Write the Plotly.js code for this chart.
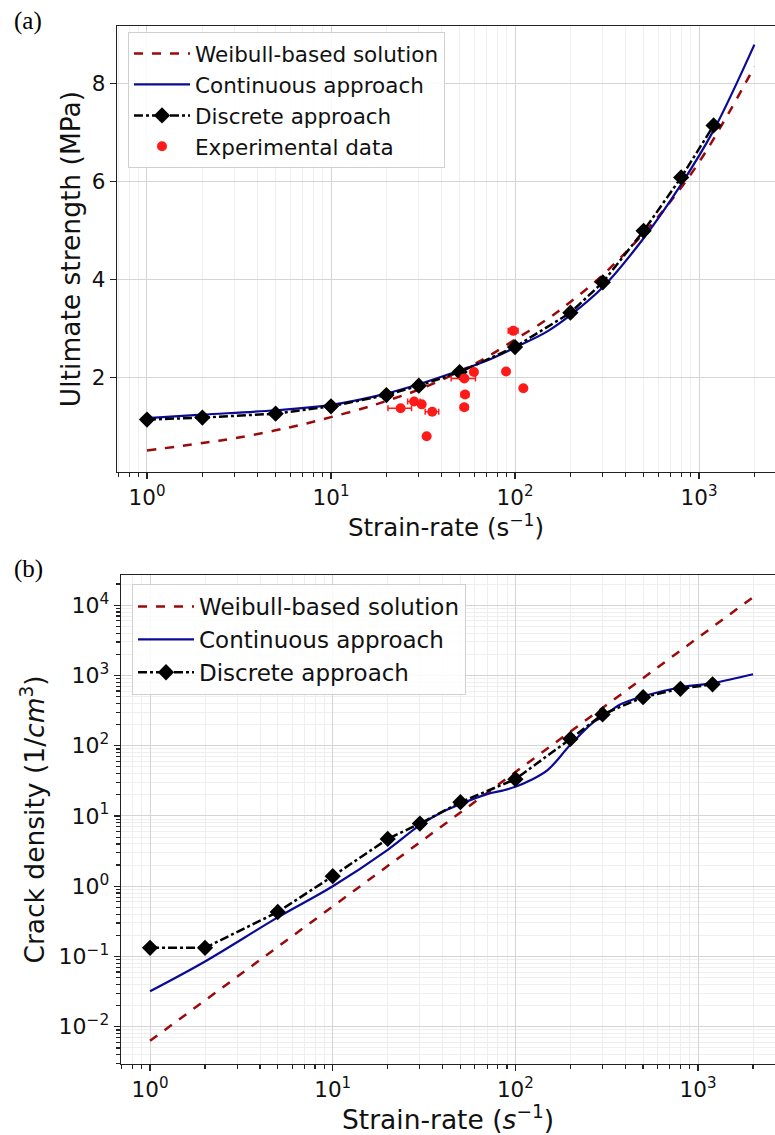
<!DOCTYPE html>
<html>
<head>
<meta charset="utf-8">
<script src="https://cdn.plot.ly/plotly-3.0.1.min.js"></script>
<style>html,body{margin:0;padding:0;background:#fff;}#chart{width:775px;height:1135px;}</style>
</head>
<body>
<div id="chart"></div>
<script>
// ---------- Panel (a): ultimate strength ----------
const discStrain = [1, 2, 5, 10, 20, 30, 50, 100, 200, 300, 500, 800, 1200];
const discStrength = [1.15, 1.19, 1.27, 1.42, 1.65, 1.84, 2.12, 2.63, 3.33, 3.95, 5.0, 6.09, 7.15];

const contStrainA = [1, 2, 5, 10, 20, 30, 50, 70, 100, 150, 200, 300, 500, 800, 1200, 2000];
const contStrength = [1.18, 1.25, 1.34, 1.45, 1.68, 1.87, 2.15, 2.35, 2.62, 2.95, 3.28, 3.85, 4.85, 5.95, 7.05, 8.8];

const weibStrainA = [1, 2, 3, 5, 7, 10, 15, 20, 30, 50, 70, 100, 150, 200, 300, 500, 700, 1000, 1500, 2000];
const weibStrength = [0.52, 0.67, 0.77, 0.93, 1.05, 1.2, 1.38, 1.53, 1.76, 2.13, 2.42, 2.78, 3.2, 3.55, 4.1, 4.95, 5.6, 6.4, 7.5, 8.35];

const expStrain = [23.9, 28.3, 31.1, 35.5, 33.1, 53, 59.8, 53.5, 53, 89.4, 97.9, 111];
const expStrength = [1.38, 1.52, 1.46, 1.31, 0.81, 1.99, 2.12, 1.66, 1.40, 2.13, 2.96, 1.79];
const expStrainErr = [3.5, 2.2, 0, 3.0, 0, 8, 0, 2.5, 2.5, 0, 6, 0];

// ---------- Panel (b): crack density ----------
const discCrack = [0.133, 0.133, 0.43, 1.39, 4.72, 7.8, 15.7, 33.4, 125, 279, 491, 647, 748];

const contStrainB = [1, 2, 5, 10, 20, 30, 40, 50, 70, 85, 100, 120, 150, 200, 270, 300, 370, 500, 800, 1200, 2000];
const contCrack = [0.032, 0.085, 0.36, 1.0, 3.3, 7.4, 11.5, 14.8, 20.5, 23, 26, 32, 45, 103, 220, 255, 380, 505, 680, 780, 1040];

const weibStrainB = [1, 10, 100, 1000, 2000];
const weibCrack = [0.0063, 0.52, 42, 3450, 13000];

const xTickVals = [1, 10, 100, 1000];
const xTickText = ['10<sup>0</sup>', '10<sup>1</sup>', '10<sup>2</sup>', '10<sup>3</sup>'];
const yTickValsA = [2, 4, 6, 8];
const yTickValsB = [0.01, 0.1, 1, 10, 100, 1000, 10000];
const yTickTextB = ['10<sup>−2</sup>', '10<sup>−1</sup>', '10<sup>0</sup>', '10<sup>1</sup>', '10<sup>2</sup>', '10<sup>3</sup>', '10<sup>4</sup>'];

const names = ['Weibull-based solution', 'Continuous approach', 'Discrete approach', 'Experimental data'];

const WEIB = '#9b0a0a', CONT = '#0a0a96', BLK = '#000000', EXP = '#ff1a1a';
const FONT = 'DejaVu Sans, sans-serif';

const discMarker = {symbol: 'diamond', size: 12.5, color: BLK};

const traces = [
  {x: weibStrainA, y: weibStrength, name: names[0], mode: 'lines', line: {color: WEIB, width: 2.5, dash: 'dash', shape: 'spline'}, xaxis: 'x', yaxis: 'y', legend: 'legend'},
  {x: contStrainA, y: contStrength, name: names[1], mode: 'lines', line: {color: CONT, width: 2.2, shape: 'spline'}, xaxis: 'x', yaxis: 'y', legend: 'legend'},
  {x: discStrain, y: discStrength, name: names[2], mode: 'lines+markers', line: {color: BLK, width: 2.5, dash: 'dashdot'}, marker: discMarker, xaxis: 'x', yaxis: 'y', legend: 'legend'},
  {x: expStrain, y: expStrength, name: names[3], mode: 'markers', marker: {symbol: 'circle', size: 10, color: EXP},
   error_x: {type: 'data', array: expStrainErr, visible: true, color: EXP, thickness: 1.5, width: 3},
   xaxis: 'x', yaxis: 'y', legend: 'legend'},

  {x: weibStrainB, y: weibCrack, name: names[0], mode: 'lines', line: {color: WEIB, width: 2.5, dash: 'dash'}, xaxis: 'x2', yaxis: 'y2', legend: 'legend2'},
  {x: contStrainB, y: contCrack, name: names[1], mode: 'lines', line: {color: CONT, width: 2.2, shape: 'spline'}, xaxis: 'x2', yaxis: 'y2', legend: 'legend2'},
  {x: discStrain, y: discCrack, name: names[2], mode: 'lines+markers', line: {color: BLK, width: 2.5, dash: 'dashdot'}, marker: discMarker, xaxis: 'x2', yaxis: 'y2', legend: 'legend2'}
];

const W = 775, H = 1135;
const axCommon = {
  showline: true, linecolor: '#222', linewidth: 1.3, mirror: true,
  ticks: 'outside', ticklen: 6, tickwidth: 1.2, tickcolor: '#222',
  tickfont: {family: FONT, size: 21.5, color: '#111'},
  gridcolor: '#d4d4d4', gridwidth: 1, zeroline: false
};
const minorLog = {ticks: 'outside', ticklen: 3.5, tickcolor: '#222', dtick: 'D1', showgrid: true, gridcolor: '#efefef', gridwidth: 1};

const layout = {
  width: W, height: H,
  margin: {l: 0, r: 0, t: 0, b: 0},
  paper_bgcolor: '#fff', plot_bgcolor: '#fff',
  showlegend: true,
  font: {family: FONT, color: '#111'},
  xaxis: Object.assign({}, axCommon, {
    type: 'log', domain: [117 / W, 1], range: [-0.163, 3.413], anchor: 'y',
    tickvals: xTickVals, ticktext: xTickText, minor: minorLog,
    title: {text: 'Strain-rate (s<sup>−1</sup>)', font: {family: FONT, size: 24.5, color: '#111'}, standoff: 2}
  }),
  yaxis: Object.assign({}, axCommon, {
    domain: [1 - 472 / H, 1 - 26 / H], range: [0.08, 9.18], anchor: 'x',
    tickvals: yTickValsA,
    title: {text: 'Ultimate strength (MPa)', font: {family: FONT, size: 26.5, color: '#111'}, standoff: 3}
  }),
  xaxis2: Object.assign({}, axCommon, {
    type: 'log', domain: [121 / W, 1], range: [-0.159, 3.421], anchor: 'y2',
    tickvals: xTickVals, ticktext: xTickText, minor: minorLog,
    title: {text: 'Strain-rate (<i>s</i><sup>−1</sup>)', font: {family: FONT, size: 26.5, color: '#111'}, standoff: 2}
  }),
  yaxis2: Object.assign({}, axCommon, {
    type: 'log', domain: [1 - 1064 / H, 1 - 575 / H], range: [-2.53, 4.43], anchor: 'x2',
    tickvals: yTickValsB, ticktext: yTickTextB, minor: minorLog, tickfont: {family: FONT, size: 22, color: '#111'},
    title: {text: 'Crack density (1/<i>cm</i><sup>3</sup>)', font: {family: FONT, size: 26.5, color: '#111'}, standoff: 6}
  }),
  legend: {
    x: 128 / W, y: 1 - 32 / H, xanchor: 'left', yanchor: 'top',
    bgcolor: 'rgba(255,255,255,0.85)', bordercolor: '#d0d0d0', borderwidth: 1,
    font: {family: FONT, size: 21.5, color: '#111'}, tracegroupgap: 0, itemwidth: 56
  },
  legend2: {
    x: 132 / W, y: 1 - 584 / H, xanchor: 'left', yanchor: 'top',
    bgcolor: 'rgba(255,255,255,0.85)', bordercolor: '#d0d0d0', borderwidth: 1,
    font: {family: FONT, size: 23, color: '#111'}, tracegroupgap: 0, itemwidth: 56
  },
  annotations: [
    {text: '(a)', xref: 'paper', yref: 'paper', x: 12 / W, y: 1 - 5 / H, xanchor: 'left', yanchor: 'top', showarrow: false,
     font: {family: 'Liberation Serif, Times New Roman, serif', size: 25, color: '#000'}},
    {text: '(b)', xref: 'paper', yref: 'paper', x: 12 / W, y: 1 - 553 / H, xanchor: 'left', yanchor: 'top', showarrow: false,
     font: {family: 'Liberation Serif, Times New Roman, serif', size: 25, color: '#000'}}
  ]
};

Plotly.newPlot('chart', traces, layout, {staticPlot: true, displayModeBar: false});
</script>
</body>
</html>
